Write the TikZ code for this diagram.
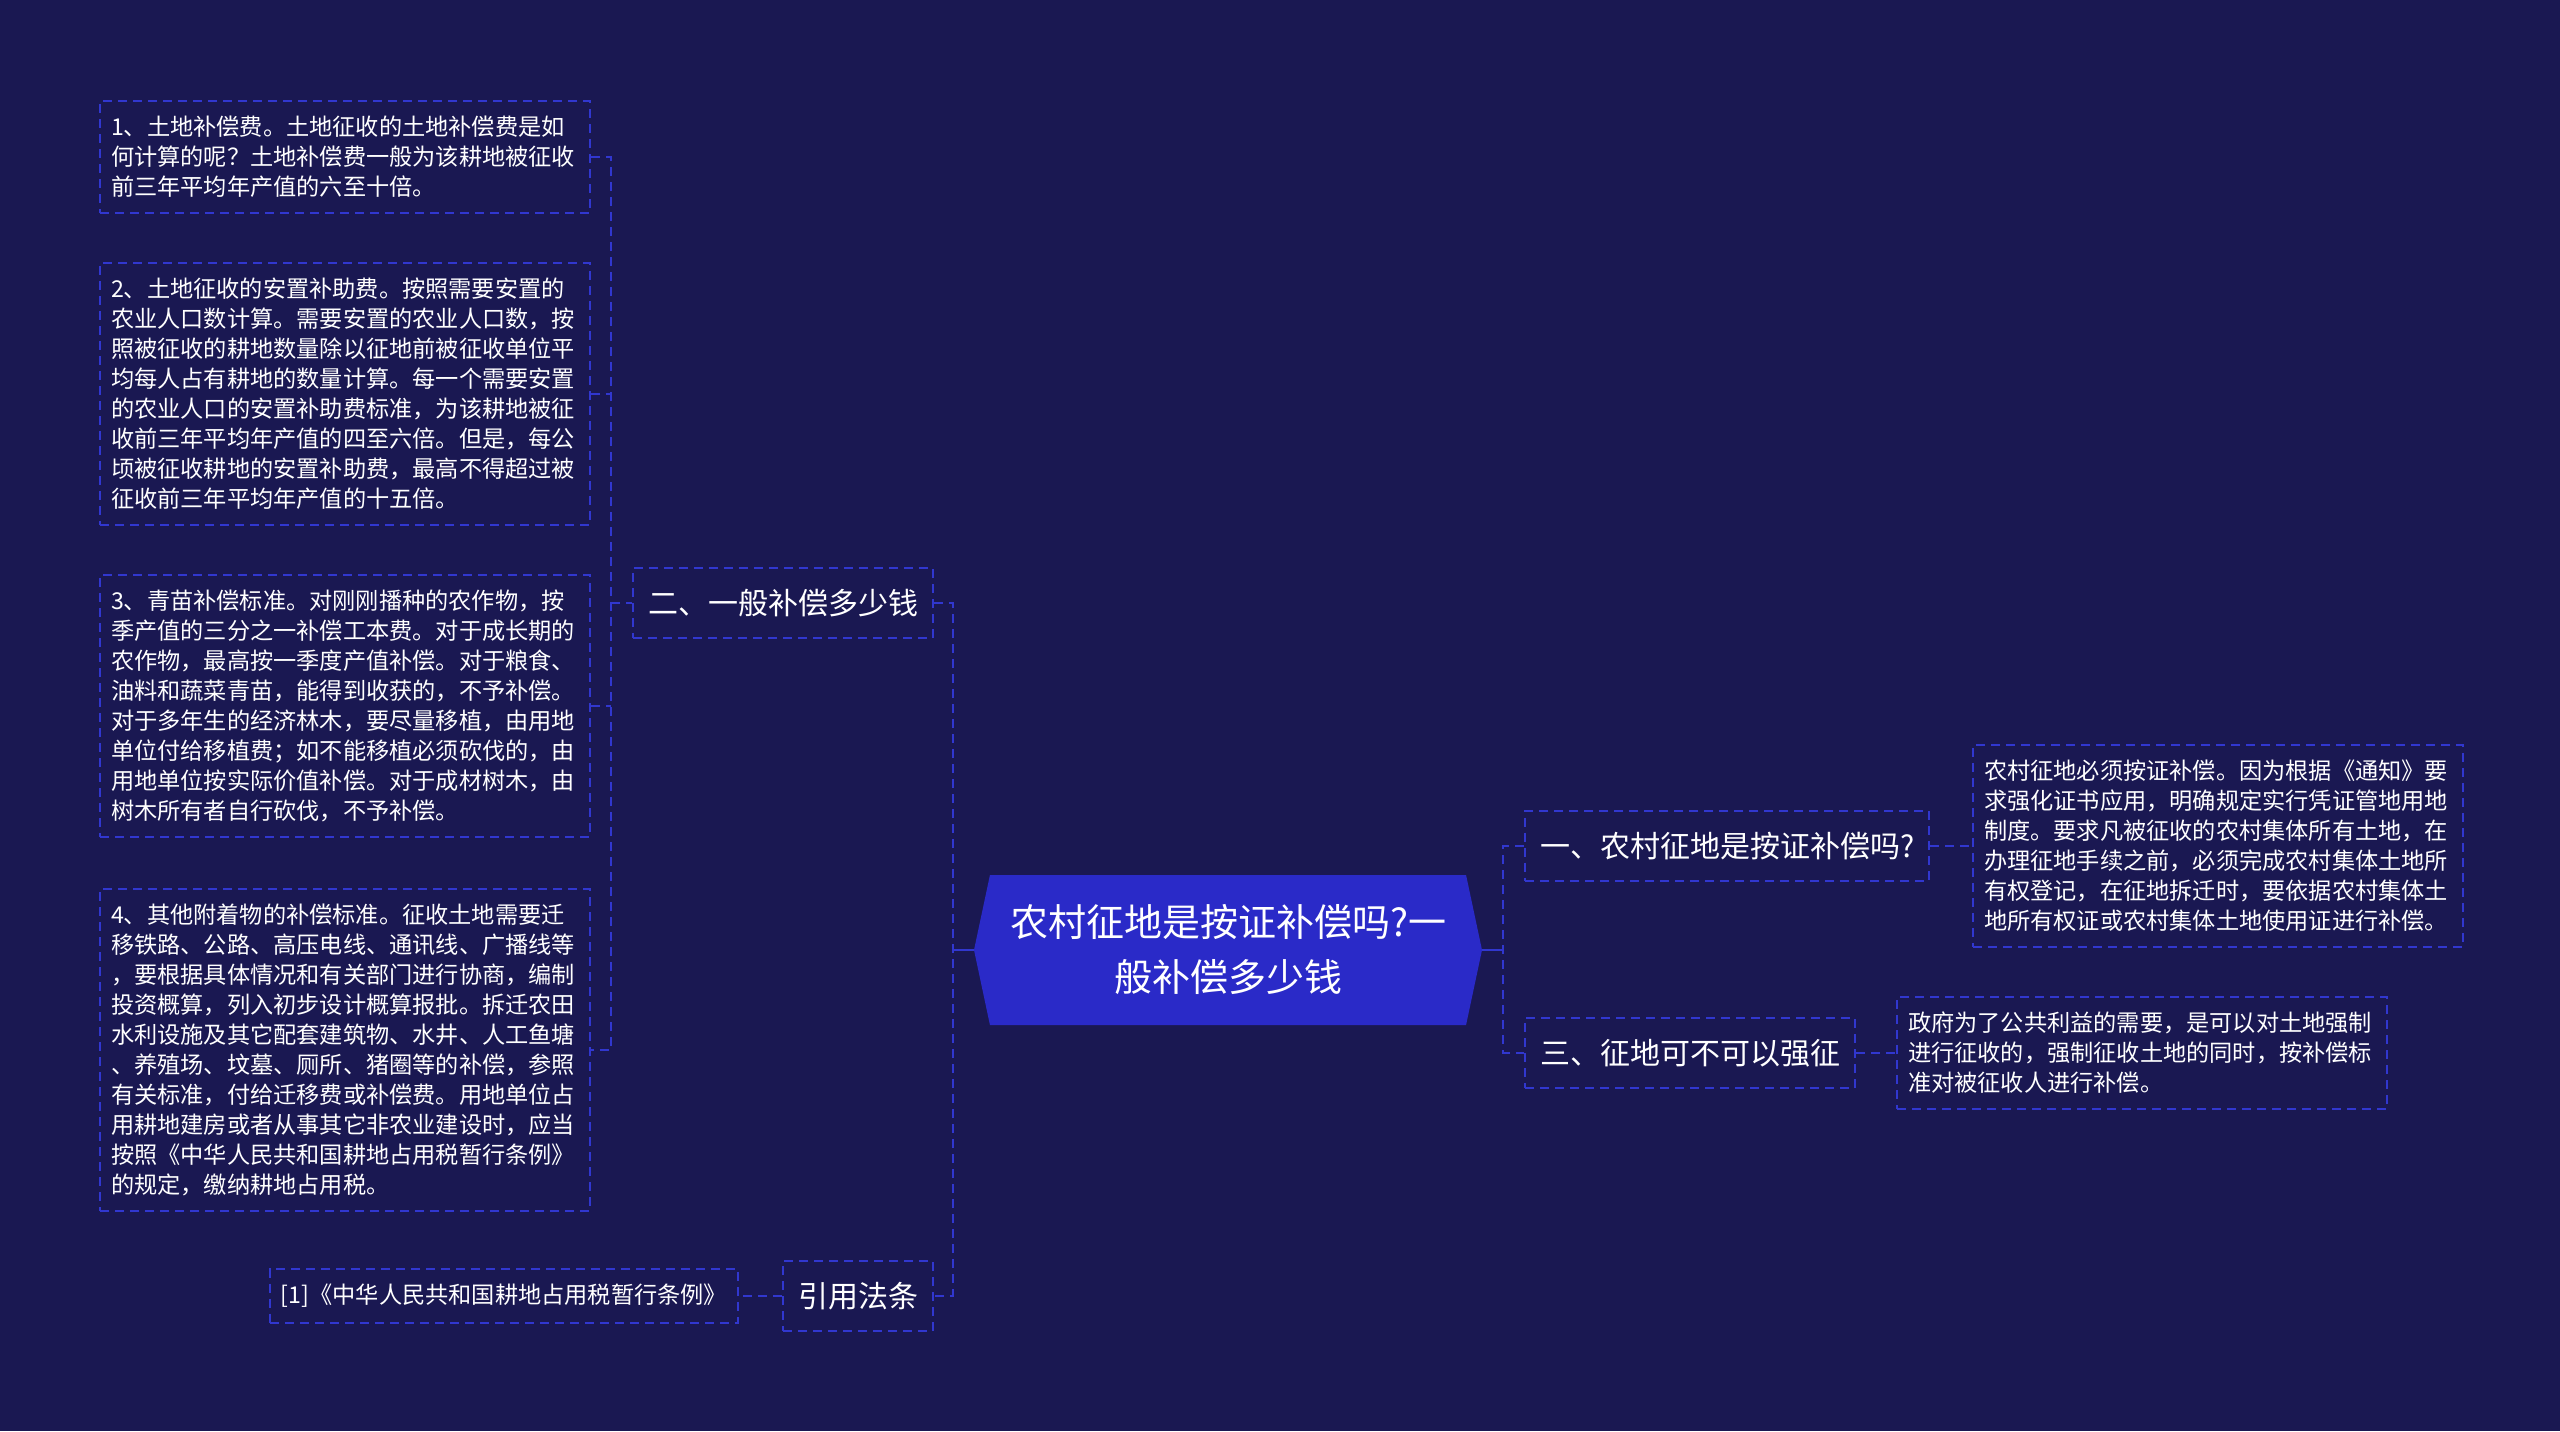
\documentclass[tikz,border=0pt]{standalone}
\usepackage{fontspec}
\newfontfamily\cjk{Noto Sans CJK SC}
\usetikzlibrary{shapes.symbols}
\definecolor{bgcol}{HTML}{1A1852}
\definecolor{rootcol}{HTML}{2A2AC8}
\definecolor{dashcol}{HTML}{3137CF}

\begin{document}
\begin{tikzpicture}[
  x=0.5pt, y=-0.5pt,
  every node/.style={text=white, font=\cjk},
  root/.style={signal, signal to=west and east, signal pointer angle=156, fill=rootcol,
    minimum width=254pt, minimum height=75pt, inner sep=0pt, align=center,
    font=\cjk\fontsize{19pt}{27.5pt}\selectfont},
  topic/.style={draw=dashcol, line width=1pt, dash pattern=on 4.5pt off 3pt,
    minimum height=35pt, inner xsep=7.5pt, inner ysep=0pt,
    font=\cjk\fontsize{15pt}{18pt}\selectfont},
  detail/.style={draw=dashcol, line width=1pt, dash pattern=on 4.5pt off 3pt,
    text width=234pt, inner xsep=5.5pt, align=left, minimum height={#1*15pt+11pt},
    font=\cjk\fontsize{11.6pt}{15pt}\selectfont},
  link/.style={draw=dashcol, line width=1.2pt},
  dlink/.style={draw=dashcol, line width=1pt, dash pattern=on 4.5pt off 3pt}]

  % --- page ---
  \fill[bgcol] (0,0) rectangle (2560,1431);
  \useasboundingbox (0,0) rectangle (2560,1431);

  % --- centre topic ---
  \node[root] (root) at (1228,950) {农村征地是按证补偿吗?一\\般补偿多少钱};

  % --- left branch: 二 and the four standards, plus the cited law ---
  \node[topic, anchor=west] (q2) at (632,603) {二、一般补偿多少钱};
  \node[topic, anchor=west] (cite) at (782,1296) {引用法条};

  \node[detail=3, anchor=west] (d1) at (99,157) {1、土地补偿费。土地征收的土地补偿费是如\\
何计算的呢？土地补偿费一般为该耕地被征收\\
前三年平均年产值的六至十倍。};
  \node[detail=8, anchor=west] (d2) at (99,394) {2、土地征收的安置补助费。按照需要安置的\\
农业人口数计算。需要安置的农业人口数，按\\
照被征收的耕地数量除以征地前被征收单位平\\
均每人占有耕地的数量计算。每一个需要安置\\
的农业人口的安置补助费标准，为该耕地被征\\
收前三年平均年产值的四至六倍。但是，每公\\
顷被征收耕地的安置补助费，最高不得超过被\\
征收前三年平均年产值的十五倍。};
  \node[detail=8, anchor=west] (d3) at (99,706) {3、青苗补偿标准。对刚刚播种的农作物，按\\
季产值的三分之一补偿工本费。对于成长期的\\
农作物，最高按一季度产值补偿。对于粮食、\\
油料和蔬菜青苗，能得到收获的，不予补偿。\\
对于多年生的经济林木，要尽量移植，由用地\\
单位付给移植费；如不能移植必须砍伐的，由\\
用地单位按实际价值补偿。对于成材树木，由\\
树木所有者自行砍伐，不予补偿。};
  \node[detail=10, anchor=west] (d4) at (99,1050) {4、其他附着物的补偿标准。征收土地需要迁\\
移铁路、公路、高压电线、通讯线、广播线等\\
，要根据具体情况和有关部门进行协商，编制\\
投资概算，列入初步设计概算报批。拆迁农田\\
水利设施及其它配套建筑物、水井、人工鱼塘\\
、养殖场、坟墓、厕所、猪圈等的补偿，参照\\
有关标准，付给迁移费或补偿费。用地单位占\\
用耕地建房或者从事其它非农业建设时，应当\\
按照《中华人民共和国耕地占用税暂行条例》\\
的规定，缴纳耕地占用税。};

  \node[detail=1, text width=, align=center, minimum height=27pt, anchor=east] (law) at (739,1296)
    {[1]《中华人民共和国耕地占用税暂行条例》};

  % --- right branch: 一 and 三 with their answers ---
  \node[topic, anchor=west] (q1) at (1524,846) {一、农村征地是按证补偿吗?};
  \node[topic, anchor=west] (q3) at (1524,1053) {三、征地可不可以强征};

  \node[detail=6, anchor=west] (a1) at (1972,846) {农村征地必须按证补偿。因为根据《通知》要\\
求强化证书应用，明确规定实行凭证管地用地\\
制度。要求凡被征收的农村集体所有土地，在\\
办理征地手续之前，必须完成农村集体土地所\\
有权登记，在征地拆迁时，要依据农村集体土\\
地所有权证或农村集体土地使用证进行补偿。};
  \node[detail=3, anchor=west] (a3) at (1896,1053) {政府为了公共利益的需要，是可以对土地强制\\
进行征收的，强制征收土地的同时，按补偿标\\
准对被征收人进行补偿。};

  % --- connectors ---
  \draw[link] (root.west) -- ++(-21,0) coordinate (lj);
  \draw[link] (root.east) -- ++(21,0) coordinate (rj);
  \path (q2.west) ++(-21,0) coordinate (lk);

  \draw[dlink] (q2.east) -- (q2.east -| lj) -- (cite.east -| lj) -- (cite.east);
  \draw[dlink] (d1.east) -- (d1.east -| lk) -- (d4.east -| lk) -- (d4.east);
  \draw[dlink] (d2.east) -- (d2.east -| lk);
  \draw[dlink] (d3.east) -- (d3.east -| lk);
  \draw[dlink] (lk) -- (q2.west);
  \draw[dlink] (cite.west) -- (law.east);

  \draw[dlink] (q1.west) -- (q1.west -| rj) -- (q3.west -| rj) -- (q3.west);
  \draw[dlink] (q1.east) -- (a1.west);
  \draw[dlink] (q3.east) -- (a3.west);

\end{tikzpicture}
\end{document}
